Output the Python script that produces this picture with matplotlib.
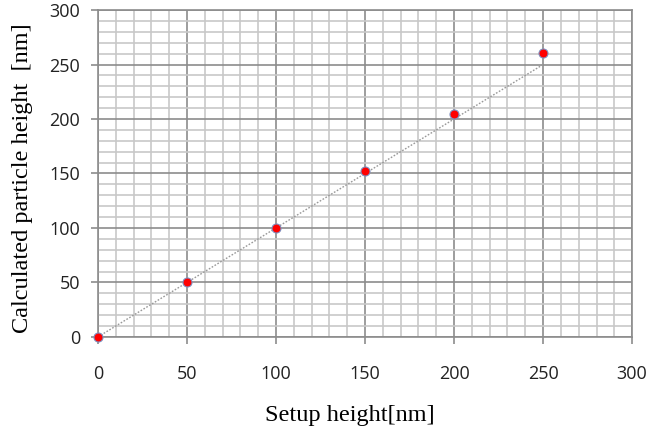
import matplotlib
matplotlib.use("Agg")
import matplotlib.pyplot as plt
from matplotlib.ticker import MultipleLocator

# setup height vs calculated particle height (nm)
setup = [0, 50, 100, 150, 200, 250]
calc = [0, 50, 100, 152, 205, 261]
ideal = [0, 250]  # dotted reference line y = x


def main():
    fig = plt.figure(figsize=(6.51, 4.37), dpi=100)
    ax = fig.add_axes([0.1505, 0.229, 0.8205, 0.748])

    ax.plot(ideal, ideal, ls=(0, (1.2, 1.2)), color="#999999", lw=1.0, zorder=2)
    ax.plot(setup, calc, ls="none", marker="o", ms=6.5, mfc="#ff0000",
            mec="#7f8fbf", mew=0.8, zorder=3, clip_on=False)

    ax.set_xlim(0, 300)
    ax.set_ylim(0, 300)
    ax.xaxis.set_major_locator(MultipleLocator(50))
    ax.yaxis.set_major_locator(MultipleLocator(50))
    ax.xaxis.set_minor_locator(MultipleLocator(10))
    ax.yaxis.set_minor_locator(MultipleLocator(10))
    ax.grid(which="minor", color="#c8c8c8", lw=1.2, zorder=0)
    ax.grid(which="major", color="#8c8c8c", lw=1.2, zorder=1)
    ax.set_axisbelow(True)

    for s in ax.spines.values():
        s.set_color("#8c8c8c")
        s.set_linewidth(1.2)

    ax.tick_params(which="major", length=5, width=1.2, color="#8c8c8c",
                   labelsize=13, labelcolor="#222222")
    ax.tick_params(which="minor", length=0)
    ax.tick_params(axis="x", pad=15)
    ax.tick_params(axis="y", pad=8)
    for lab in ax.get_xticklabels() + ax.get_yticklabels():
        lab.set_family("Open Sans")

    # axis titles placed in figure pixels like the original
    fig.text(350 / 651, 1 - 416 / 437, "Setup height[nm]", family="Liberation Serif",
             fontsize=17.5, ha="center", va="center")
    fig.text(23 / 651, 1 - 178 / 437, "Calculated particle height  [nm]",
             family="Liberation Serif", fontsize=17.5, rotation=90,
             ha="center", va="center")

    fig.savefig("out.png", dpi=100)


if __name__ == "__main__":
    main()
